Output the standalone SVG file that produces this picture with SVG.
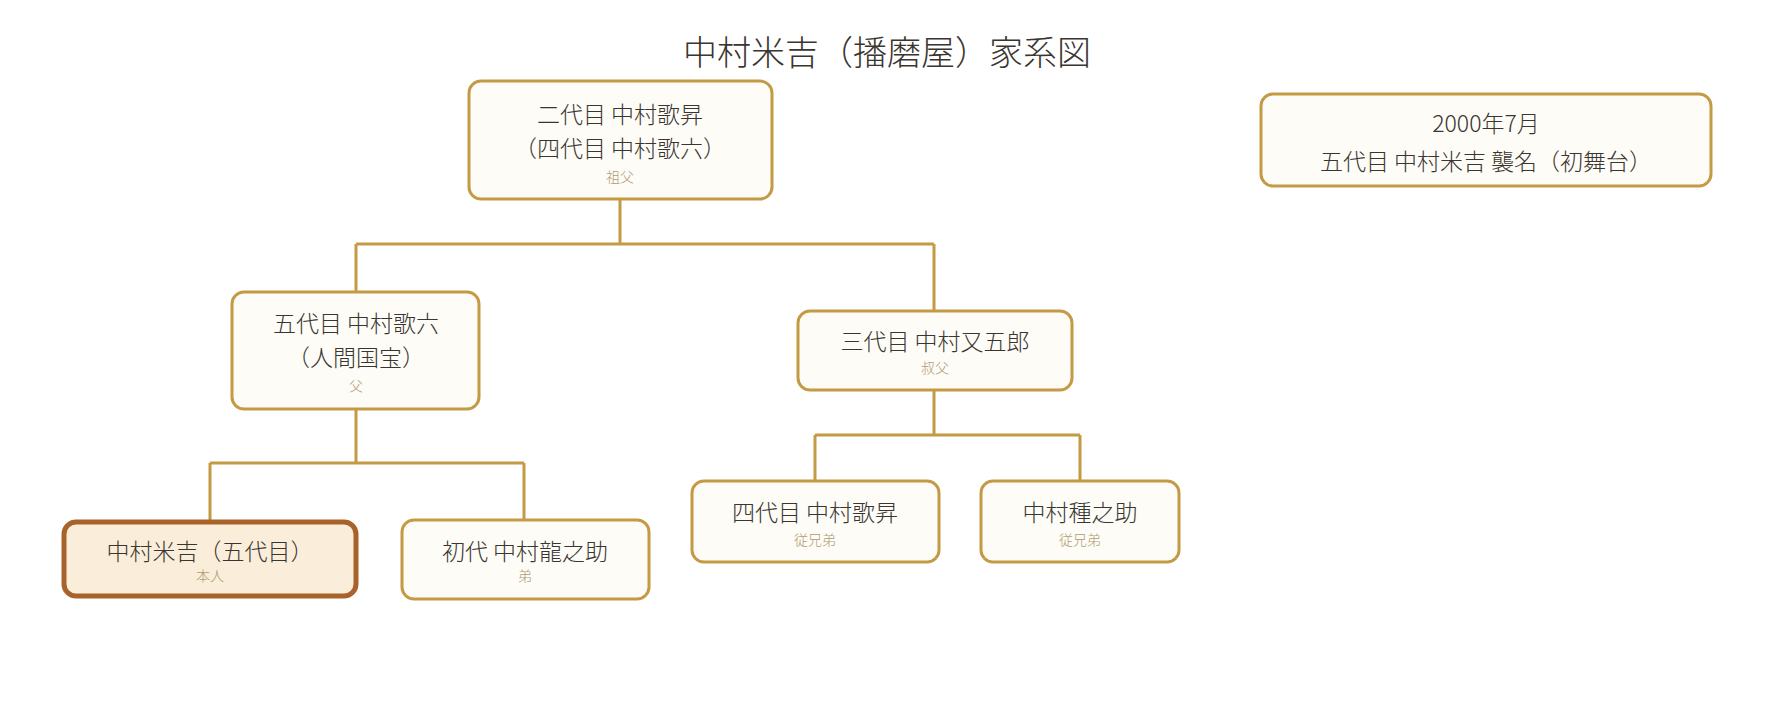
<svg xmlns="http://www.w3.org/2000/svg" width="1772" height="702" viewBox="0 0 1772 702">
<style>
text{font-family:"Noto Sans CJK JP","Noto Sans",sans-serif;text-anchor:middle;dominant-baseline:central;font-weight:300}
.b{fill:#fdfcf7;stroke:#c49a45;stroke-width:3}
.m{font-size:23px;fill:#3a3530}
.s{font-size:14px;fill:#b09a70}
.c{fill:none;stroke:#c49a45;stroke-width:3}
</style>
<rect width="1772" height="702" fill="#fff"/>
<text x="887" y="50" font-size="34" fill="#3a3530">中村米吉（播磨屋）家系図</text>
<g id="connectors">
<path class="c" d="M620 199V244M356 244H934M356 244V292M934 244V311"/>
<path class="c" d="M356 409V463M210 463H524M210 463V520M524 463V520"/>
<path class="c" d="M934 390V435M815 435H1080M815 435V481M1080 435V481"/>
</g>
<g id="grandfather"><rect class="b" x="469" y="81" width="303" height="118" rx="12"/>
<text class="m" x="620" y="113">二代目 中村歌昇</text><text class="m" x="620" y="147">（四代目 中村歌六）</text><text class="s" x="620" y="176">祖父</text></g>
<g id="father"><rect class="b" x="232" y="292" width="247" height="117" rx="12"/>
<text class="m" x="356" y="322">五代目 中村歌六</text><text class="m" x="356" y="356">（人間国宝）</text><text class="s" x="356" y="385">父</text></g>
<g id="uncle"><rect class="b" x="798" y="311" width="274" height="79" rx="12"/>
<text class="m" x="935" y="340">三代目 中村又五郎</text><text class="s" x="935" y="367">叔父</text></g>
<g id="self"><rect x="64" y="522" width="292" height="74" rx="12" fill="#faeedb" stroke="#a8632a" stroke-width="5"/>
<text class="m" x="210" y="550">中村米吉（五代目）</text><text class="s" x="210" y="575">本人</text></g>
<g id="brother"><rect class="b" x="402" y="520" width="247" height="79" rx="12"/>
<text class="m" x="525" y="550">初代 中村龍之助</text><text class="s" x="525" y="575">弟</text></g>
<g id="cousin1"><rect class="b" x="692" y="481" width="247" height="81" rx="12"/>
<text class="m" x="815" y="511">四代目 中村歌昇</text><text class="s" x="815" y="539">従兄弟</text></g>
<g id="cousin2"><rect class="b" x="981" y="481" width="198" height="81" rx="12"/>
<text class="m" x="1080" y="511">中村種之助</text><text class="s" x="1080" y="539">従兄弟</text></g>
<g id="note"><rect class="b" x="1261" y="94" width="450" height="92" rx="12"/>
<text class="m" x="1486" y="122">2000年7月</text><text class="m" x="1486" y="160">五代目 中村米吉 襲名（初舞台）</text></g>
</svg>
